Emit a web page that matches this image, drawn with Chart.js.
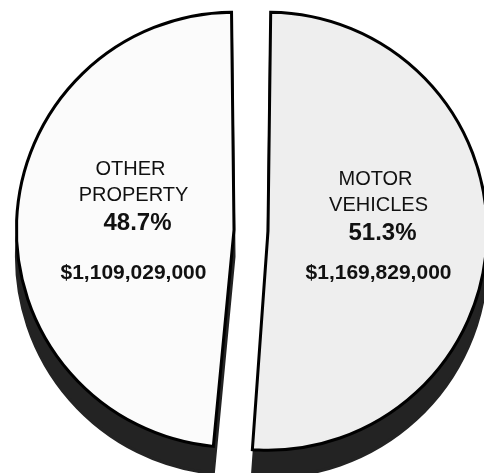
<!DOCTYPE html>
<html>
<head>
<meta charset="utf-8">
<script src="https://cdn.jsdelivr.net/npm/chart.js@4"></script>
<style>
  html, body { margin: 0; padding: 0; background: #fff; }
  #wrap { width: 484px; height: 473px; }
</style>
</head>
<body>
<div id="wrap"><canvas id="myChart"></canvas></div>
<script>
// data
let categories = ['MOTOR VEHICLES', 'OTHER PROPERTY'];
let nameLines = [['MOTOR', 'VEHICLES'], ['OTHER', 'PROPERTY']];
let amounts = [1169829000, 1109029000];
let percentLabels = ['51.3%', '48.7%'];
let amountLabels = ['$1,169,829,000', '$1,109,029,000'];

let sliceColors = ['#eeeeee', '#fbfbfb'];
let shadowColor = '#232323';
let shadowDepth = 27;

// dark "side" of the tilted pie, drawn from the arcs themselves shifted down
let pieShadow = {
    id: 'pieShadow',
    beforeDatasetsDraw(chart) {
        let ctx = chart.ctx;
        chart.getDatasetMeta(0).data.forEach(arc => {
            let saved = arc.options;
            arc.options = Object.assign({}, saved, {backgroundColor: shadowColor, borderColor: shadowColor});
            ctx.save();
            ctx.translate(0, shadowDepth);
            arc.draw(ctx);
            ctx.restore();
            arc.options = saved;
        });
    }
};

// text inside each slice
let sliceText = {
    id: 'sliceText',
    afterDatasetsDraw(chart) {
        let ctx = chart.ctx;
        let lineDx = [2, 5, 9, 5];
        let lineDy = [-56, -30, -2];
        let fonts = ['20px "Liberation Sans"', '20px "Liberation Sans"',
                     'bold 24px "Liberation Sans"', 'bold 21px "Liberation Sans"'];
        chart.getDatasetMeta(0).data.forEach((arc, i) => {
            let p = arc.getProps(['x', 'y', 'startAngle', 'endAngle', 'outerRadius'], true);
            let mid = (p.startAngle + p.endAngle) / 2;
            let ax = p.x + Math.cos(mid) * p.outerRadius * 0.607;
            let ay = p.y + Math.sin(mid) * p.outerRadius * 0.607;
            let lines = [nameLines[i][0], nameLines[i][1], percentLabels[i], amountLabels[i]];
            ctx.save();
            ctx.fillStyle = '#111';
            ctx.textAlign = 'center';
            ctx.textBaseline = 'middle';
            lines.forEach((t, k) => {
                ctx.font = fonts[k];
                let y = k < 3 ? ay + lineDy[k] : p.y + 43;
                ctx.fillText(t, ax + lineDx[k], y);
            });
            ctx.restore();
        });
    }
};

let ctx = document.getElementById('myChart').getContext('2d');
let myChart = new Chart(ctx, {
    type: 'pie',
    data: {
        labels: categories,
        datasets: [{
            data: amounts,
            backgroundColor: sliceColors,
            borderColor: '#000',
            borderWidth: 3,
            borderJoinStyle: 'miter',
            offset: 68,
            radius: 202,
            clip: false
        }]
    },
    options: {
        responsive: true,
        maintainAspectRatio: false,
        animation: false,
        layout: { padding: { left: 18, right: 0, top: 0, bottom: 12 } },
        plugins: {
            legend: { display: false },
            tooltip: { enabled: false }
        }
    },
    plugins: [pieShadow, sliceText]
});
</script>
</body>
</html>
